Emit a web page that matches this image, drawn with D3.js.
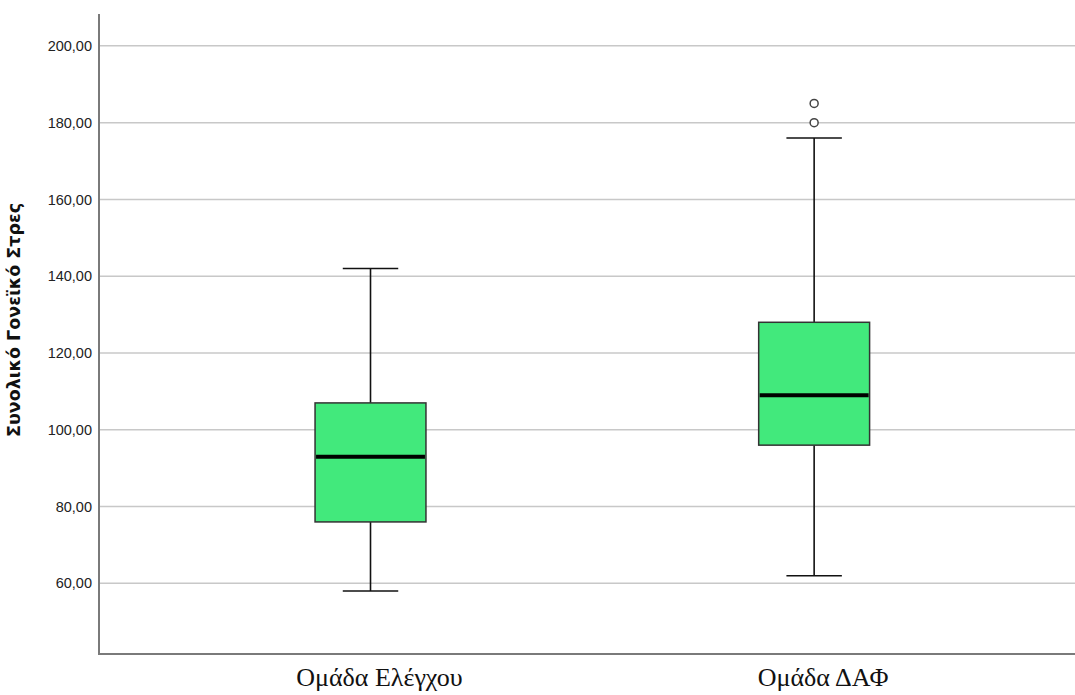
<!DOCTYPE html>
<html>
<head>
<meta charset="utf-8">
<script src="https://cdn.jsdelivr.net/npm/d3@7/dist/d3.min.js"></script>
<style>
  html, body { margin: 0; padding: 0; background: #fff; }
  svg { display: block; }
</style>
</head>
<body>
<svg id="chart" width="1075" height="695"></svg>
<script>
// ---- data ----
const categories = ["Ομάδα Ελέγχου", "Ομάδα ΔΑΦ"];
const whiskerLow = [58, 62];
const q1 = [76, 96];
const medians = [93, 109];
const q3 = [107, 128];
const whiskerHigh = [142, 176];
const outliers = [[], [180, 185]];
const yTicks = [60, 80, 100, 120, 140, 160, 180, 200];
const yLabel = "Συνολικό Γονεϊκό Στρες";

// ---- layout ----
const W = 1075, H = 695;
const plot = { left: 99, right: 1075, top: 14, bottom: 654 };

const svg = d3.select("#chart");

const y = d3.scaleLinear().domain([41.6, 208.3]).range([plot.bottom, plot.top]);
const x = d3.scalePoint().domain(categories).range([plot.left, plot.right]).padding(0.6).align(0.51);
const step = x.step();
const boxW = step * 0.25;
const capW = boxW * 0.5;

// gridlines
svg.append("g").selectAll("line").data(yTicks).join("line")
  .attr("x1", plot.left + 1).attr("x2", plot.right)
  .attr("y1", d => y(d)).attr("y2", d => y(d))
  .attr("stroke", "#c8c8c8").attr("stroke-width", 1.5);

// y axis with tick labels
const fmt = d => d3.format(".2f")(d).replace(".", ",");
const yAxis = svg.append("g")
  .attr("transform", `translate(${plot.left},0)`)
  .call(d3.axisLeft(y).tickValues(yTicks).tickFormat(fmt).tickSize(0).tickPadding(7));
yAxis.select(".domain").remove();
yAxis.selectAll("text")
  .attr("font-family", "Liberation Sans, Arial, sans-serif")
  .attr("font-size", 14.5)
  .attr("fill", "#222");

// axis lines
svg.append("line")
  .attr("x1", plot.left).attr("x2", plot.left)
  .attr("y1", plot.top).attr("y2", plot.bottom)
  .attr("stroke", "#7a7a7a").attr("stroke-width", 2);
svg.append("line")
  .attr("x1", plot.left - 1).attr("x2", plot.right)
  .attr("y1", plot.bottom).attr("y2", plot.bottom)
  .attr("stroke", "#7a7a7a").attr("stroke-width", 2);

// x category labels
svg.append("g").selectAll("text").data(categories).join("text")
  .attr("x", d => x(d) + 9).attr("y", 686)
  .attr("text-anchor", "middle")
  .attr("font-family", "Liberation Serif, 'Times New Roman', serif")
  .attr("font-size", 26)
  .attr("fill", "#111")
  .text(d => d);

// y label
svg.append("text")
  .attr("transform", `translate(20,320) rotate(-90)`)
  .attr("text-anchor", "middle")
  .attr("font-family", "DejaVu Sans, Verdana, sans-serif")
  .attr("font-weight", "bold")
  .attr("font-size", 17.5)
  .attr("fill", "#111")
  .text(yLabel);

// boxes
const g = svg.append("g").selectAll("g").data(categories).join("g");
g.each(function(cat, i) {
  const s = d3.select(this);
  const cx = x(cat);
  // whiskers
  s.append("line").attr("x1", cx).attr("x2", cx)
    .attr("y1", y(whiskerHigh[i])).attr("y2", y(q3[i]))
    .attr("stroke", "#111").attr("stroke-width", 1.6);
  s.append("line").attr("x1", cx).attr("x2", cx)
    .attr("y1", y(q1[i])).attr("y2", y(whiskerLow[i]))
    .attr("stroke", "#111").attr("stroke-width", 1.6);
  s.append("line").attr("x1", cx - capW / 2).attr("x2", cx + capW / 2)
    .attr("y1", y(whiskerHigh[i])).attr("y2", y(whiskerHigh[i]))
    .attr("stroke", "#111").attr("stroke-width", 1.6);
  s.append("line").attr("x1", cx - capW / 2).attr("x2", cx + capW / 2)
    .attr("y1", y(whiskerLow[i])).attr("y2", y(whiskerLow[i]))
    .attr("stroke", "#111").attr("stroke-width", 1.6);
  // box
  s.append("rect")
    .attr("x", cx - boxW / 2).attr("width", boxW)
    .attr("y", y(q3[i])).attr("height", y(q1[i]) - y(q3[i]))
    .attr("fill", "#42e97c").attr("stroke", "#333").attr("stroke-width", 1.5);
  // median
  s.append("line").attr("x1", cx - boxW / 2 + 1).attr("x2", cx + boxW / 2 - 1)
    .attr("y1", y(medians[i])).attr("y2", y(medians[i]))
    .attr("stroke", "#000").attr("stroke-width", 4);
  // outliers
  s.selectAll("circle").data(outliers[i]).join("circle")
    .attr("cx", cx).attr("cy", d => y(d)).attr("r", 4)
    .attr("fill", "#fff").attr("stroke", "#444").attr("stroke-width", 1.5);
});
</script>
</body>
</html>
